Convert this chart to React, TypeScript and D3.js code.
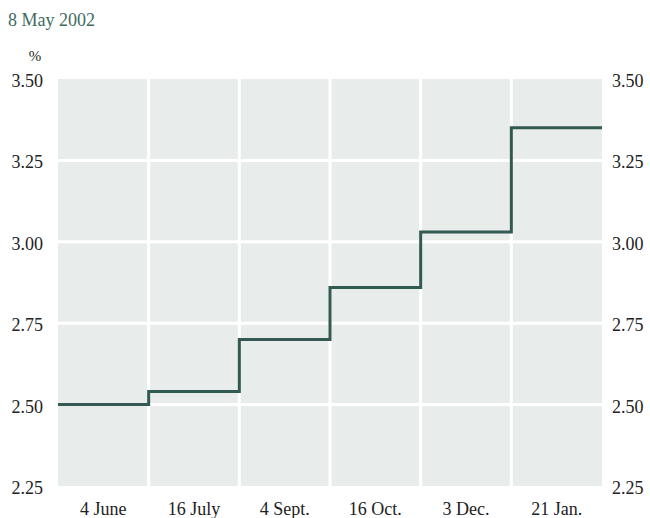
import React, { useEffect, useRef } from "react";
import * as d3 from "d3";

// meeting dates (band labels) and the expected rate for each period
const periods = ["4 June", "16 July", "4 Sept.", "16 Oct.", "3 Dec.", "21 Jan."];
const rates = [2.5, 2.54, 2.7, 2.86, 3.03, 3.35];
const yTicks = [2.25, 2.5, 2.75, 3.0, 3.25, 3.5];
const subtitle = "8 May 2002";

const App = () => {
  const ref = useRef<SVGSVGElement | null>(null);

  useEffect(() => {
    if (!ref.current) return;
    const svg = d3.select(ref.current);
    svg.selectAll("*").remove();

    const width = 650;
    const height = 518;
    const margin = { top: 79, right: 48, bottom: 32, left: 58 };
    const innerW = width - margin.left - margin.right;
    const innerH = height - margin.top - margin.bottom;
    const font = "'Liberation Serif', 'Times New Roman', serif";

    svg.attr("width", width).attr("height", height);

    // subtitle and unit
    svg
      .append("text")
      .attr("x", 8)
      .attr("y", 26)
      .attr("font-family", font)
      .attr("font-size", 18)
      .attr("fill", "#3f6b5f")
      .text(subtitle);
    svg
      .append("text")
      .attr("x", 35)
      .attr("y", 61)
      .attr("text-anchor", "middle")
      .attr("font-family", font)
      .attr("font-size", 15)
      .attr("fill", "#222")
      .text("%");

    const g = svg
      .append("g")
      .attr("transform", `translate(${margin.left},${margin.top})`);

    const xBand = d3.scaleBand().domain(periods).range([0, innerW]);
    const xIdx = d3.scaleLinear().domain([0, periods.length]).range([0, innerW]);
    const y = d3.scaleLinear().domain([2.25, 3.5]).range([innerH, 0]);

    // panel background
    g.append("rect")
      .attr("width", innerW)
      .attr("height", innerH)
      .attr("fill", "#e8ecea");

    // horizontal grid
    g.selectAll(".hgrid")
      .data(yTicks.slice(1, -1))
      .enter()
      .append("line")
      .attr("x1", 0)
      .attr("x2", innerW)
      .attr("y1", (d) => y(d))
      .attr("y2", (d) => y(d))
      .attr("stroke", "#fff")
      .attr("stroke-width", 3);

    // vertical grid between periods
    g.selectAll(".vgrid")
      .data(d3.range(1, periods.length))
      .enter()
      .append("line")
      .attr("x1", (d) => xIdx(d))
      .attr("x2", (d) => xIdx(d))
      .attr("y1", 0)
      .attr("y2", innerH)
      .attr("stroke", "#fff")
      .attr("stroke-width", 3);

    // step line
    const pts: [number, number][] = rates.map((r, i) => [i, r]);
    pts.push([periods.length, rates[rates.length - 1]]);
    const line = d3
      .line<[number, number]>()
      .x((d) => xIdx(d[0]))
      .y((d) => y(d[1]))
      .curve(d3.curveStepAfter);
    g.append("path")
      .datum(pts)
      .attr("fill", "none")
      .attr("stroke", "#335a52")
      .attr("stroke-width", 3)
      .attr("d", line);

    // y axis labels both sides
    const yLab = (x: number, anchor: string) =>
      g
        .selectAll(null)
        .data(yTicks)
        .enter()
        .append("text")
        .attr("x", x)
        .attr("y", (d) => y(d) + 8)
        .attr("text-anchor", anchor)
        .attr("font-family", font)
        .attr("font-size", 18)
        .attr("fill", "#222")
        .text((d) => d.toFixed(2));
    yLab(-15, "end");
    yLab(innerW + 10, "start");

    // x labels centred in each band
    g.selectAll(".xlab")
      .data(periods)
      .enter()
      .append("text")
      .attr("x", (d) => (xBand(d) ?? 0) + xBand.bandwidth() / 2)
      .attr("y", innerH + 29)
      .attr("text-anchor", "middle")
      .attr("font-family", font)
      .attr("font-size", 18)
      .attr("fill", "#222")
      .text((d) => d);
  }, []);

  return (
    <svg
      ref={ref}
      style={{ position: "absolute", left: 0, top: 0, background: "#fff" }}
    />
  );
};

export default App;
